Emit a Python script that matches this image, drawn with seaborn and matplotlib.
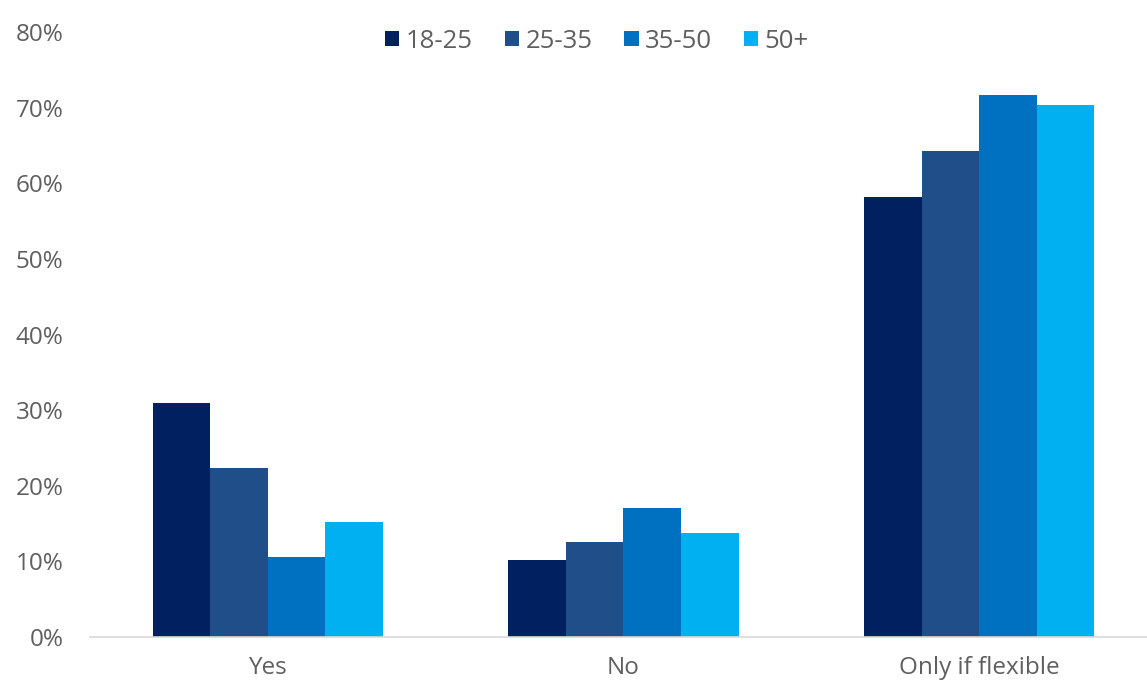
import matplotlib
matplotlib.use("Agg")
import matplotlib.pyplot as plt
from matplotlib.ticker import FuncFormatter, MultipleLocator
import pandas as pd
import seaborn as sns

# Survey answers by age group (percent of respondents)
answers = ["Yes", "No", "Only if flexible"]
age_groups = ["18-25", "25-35", "35-50", "50+"]
share_18_25 = [30.9, 10.2, 58.2]
share_25_35 = [22.4, 12.5, 64.2]
share_35_50 = [10.6, 17.0, 71.7]
share_50_plus = [15.2, 13.7, 70.4]
group_colors = ["#002060", "#1F4E89", "#0070C0", "#00B0F0"]

series = [share_18_25, share_25_35, share_35_50, share_50_plus]
rows = []
for age, values in zip(age_groups, series):
    for answer, v in zip(answers, values):
        rows.append({"answer": answer, "age": age, "share": v})
df = pd.DataFrame(rows)

sns.set_theme(style="white")
plt.rcParams["font.family"] = ["Open Sans", "DejaVu Sans"]

W, H = 1147, 688
fig = plt.figure(figsize=(W / 100, H / 100), dpi=100)
ax = fig.add_axes([90 / W, 51 / H, 1057 / W, 605 / H])

sns.barplot(
    data=df, x="answer", y="share", hue="age",
    order=answers, hue_order=age_groups, palette=group_colors,
    width=0.647, saturation=1, gap=0, linewidth=0, ax=ax, errorbar=None,
)

ax.set_xlim(-0.5, 2.472)
ax.set_ylim(0, 80)
ax.yaxis.set_major_locator(MultipleLocator(10))
ax.yaxis.set_major_formatter(FuncFormatter(lambda v, _: f"{v:.0f}%"))
ax.set_xlabel("")
ax.set_ylabel("")

text_color = "#5F5F5F"
ax.tick_params(axis="y", length=0, pad=19, labelsize=17.5, labelcolor=text_color)
ax.tick_params(axis="x", length=0, pad=13.5, labelsize=17.5, labelcolor=text_color)

for side in ["top", "right", "left"]:
    ax.spines[side].set_visible(False)
ax.spines["bottom"].set_color("#D9D9D9")
ax.spines["bottom"].set_linewidth(1.2)
ax.spines["bottom"].set_clip_on(False)
ax.grid(False)

ax.legend_.remove()
handles, labels = ax.get_legend_handles_labels()
fig.legend(
    handles, labels, loc="center", bbox_to_anchor=(597 / W, 1 - 41 / H),
    ncol=4, frameon=False, fontsize=18.5, labelcolor=text_color,
    handlelength=0.55, handleheight=0.55, handletextpad=0.25, columnspacing=1.25,
)

fig.savefig("out.png", dpi=100, facecolor="white")
